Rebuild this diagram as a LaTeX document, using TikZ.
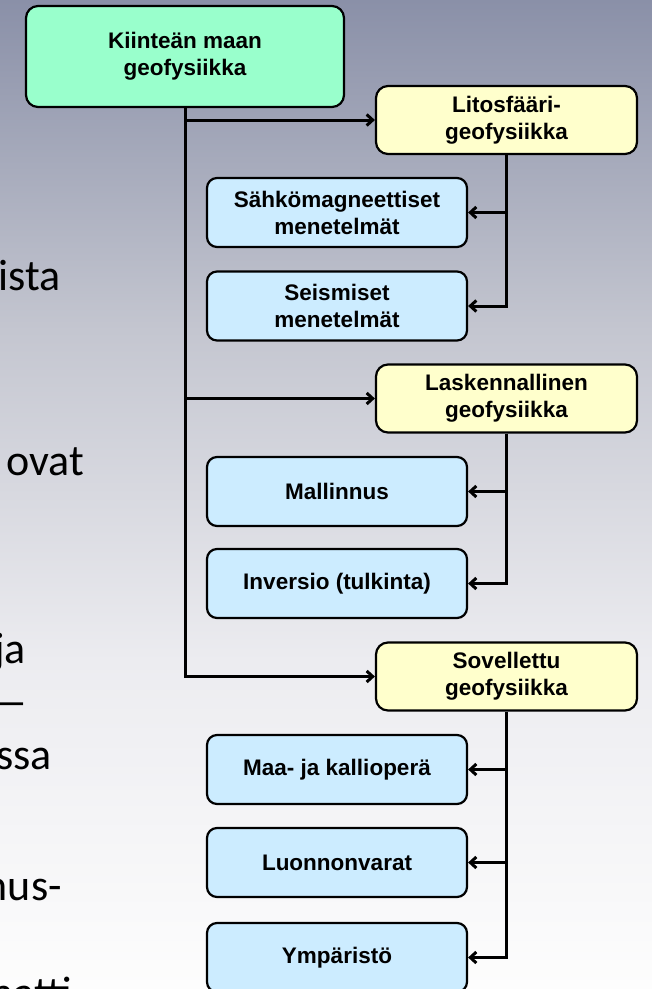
\documentclass[tikz,border=0pt]{standalone}
\usepackage{fontspec}
\setmainfont{Liberation Sans}
\newfontfamily\bodyfont{Carlito}
\usetikzlibrary{arrows.meta}
\definecolor{bgA}{RGB}{138,144,168}
\definecolor{bgB}{RGB}{196,198,208}
\definecolor{bgC}{RGB}{236,236,240}
\definecolor{bgD}{RGB}{253,253,253}
\definecolor{fillgreen}{RGB}{153,255,204}
\definecolor{fillyellow}{RGB}{255,255,204}
\definecolor{fillblue}{RGB}{204,236,255}
\tikzset{
  box/.style={draw=black, line width=2.2pt, rounded corners=12pt, align=center,
    font=\fontsize{22.5}{27}\selectfont\bfseries, inner sep=0pt},
  rootbox/.style={box, fill=fillgreen, minimum width=318pt, minimum height=101pt},
  catbox/.style={box, fill=fillyellow, minimum width=261pt, minimum height=68pt},
  leafbox/.style={box, fill=fillblue, rounded corners=10pt, minimum width=260pt, minimum height=69pt},
  arr/.style={line width=3pt, black, -{Straight Barb[length=6pt,width=11pt]}},
  lefttext/.style={font=\bodyfont\fontsize{44}{52}\selectfont, anchor=base east, inner sep=0pt, text=black}
}
\begin{document}
\begin{tikzpicture}[x=1pt,y=-1pt]
\useasboundingbox (0,0) rectangle (652,989);
\clip (0,0) rectangle (652,989);
% background gradient
\shade[top color=bgA, bottom color=bgB] (0,0) rectangle (652,330.5);
\shade[top color=bgB, bottom color=bgC] (0,330) rectangle (652,660.5);
\shade[top color=bgC, bottom color=bgD] (0,660) rectangle (652,989);

% cut-off slide text on the left
\node[lefttext] (t1) at (61,290) {ista};
\node[lefttext] (t2) at (84,475) {ovat};
\node[lefttext] (t3) at (26,663) {ja};
\node[lefttext] (t4) at (28,716) {—};
\node[lefttext] (t5) at (52,769) {ssa};
\node[lefttext] (t6) at (62,900) {nus-};
\node[lefttext] (t7) at (72,1007) {natti};

% boxes
\node[rootbox] (root) at (185,56.5) {Kiinteän maan\\geofysiikka};
\node[catbox] (litos) at (506.5,120) {Litosfääri-\\geofysiikka};
\node[catbox] (lask) at (506.5,398.5) {Laskennallinen\\geofysiikka};
\node[catbox] (sov) at (506.5,676.5) {Sovellettu\\geofysiikka};

\node[leafbox] (sahko) at (337,212.5) {Sähkömagneettiset\\menetelmät};
\node[leafbox] (seis) at (337,306) {Seismiset\\menetelmät};
\node[leafbox] (mall) at (337,491.5) {Mallinnus};
\node[leafbox] (inv) at (337,583.5) {Inversio (tulkinta)};
\node[leafbox] (maa) at (337,769.5) {Maa- ja kallioperä};
\node[leafbox] (luon) at (337,862.5) {Luonnonvarat};
\node[leafbox] (ymp) at (337,957.5) {Ympäristö};

% main trunk
\draw[arr] (root.south) |- (sov.west);
\draw[arr] (root.south |- litos.west) -- (litos.west);
\draw[arr] (root.south |- lask.west) -- (lask.west);

% sub trunks
\draw[arr] (litos.south) |- (seis.east);
\draw[arr] (litos.south |- sahko.east) -- (sahko.east);

\draw[arr] (lask.south) |- (inv.east);
\draw[arr] (lask.south |- mall.east) -- (mall.east);

\draw[arr] (sov.south) |- (ymp.east);
\draw[arr] (sov.south |- maa.east) -- (maa.east);
\draw[arr] (sov.south |- luon.east) -- (luon.east);
\end{tikzpicture}
\end{document}
